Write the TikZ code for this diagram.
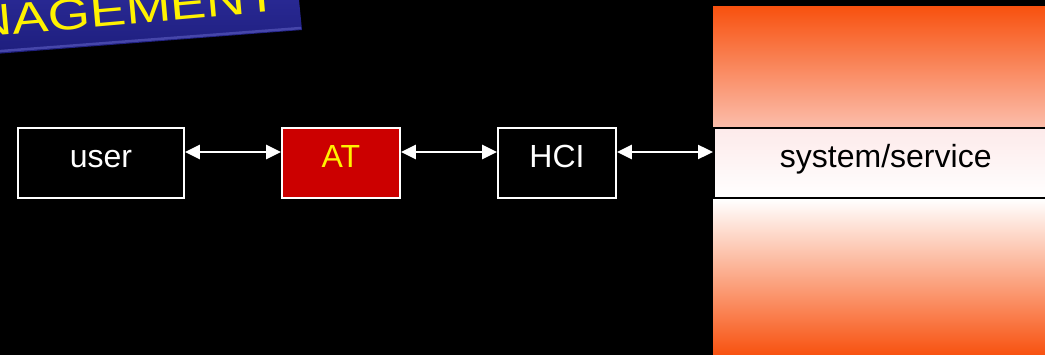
\documentclass[tikz,border=0pt]{standalone}
\usepackage{fontspec}
\setmainfont{Liberation Sans}
\usetikzlibrary{arrows.meta}

\definecolor{bannertop}{RGB}{42,42,150}
\definecolor{bannerbot}{RGB}{30,30,125}
\definecolor{bannerlight}{RGB}{70,70,170}
\definecolor{atred}{RGB}{204,0,0}
\definecolor{sysorange}{RGB}{248,82,16}
\definecolor{syssalmon}{RGB}{247,140,118}
\definecolor{syspink}{RGB}{252,222,218}
\definecolor{syslow}{RGB}{251,198,186}
\definecolor{bandpink}{RGB}{253,234,234}

\tikzset{
    box/.style={draw=white, line width=1.8pt, minimum width=#1, inner sep=0pt,
        text height=40pt, text depth=30pt, font=\fontsize{32}{36}\selectfont},
    link/.style={white, line width=2.4pt,
        {Triangle[length=15pt,width=14pt]}-{Triangle[length=15pt,width=14pt]}}
}

\begin{document}
\begin{tikzpicture}[x=1pt,y=-1pt]
                      \useasboundingbox (0,0) rectangle (1045,355);
                      \fill[black] (0,0) rectangle (1045,355);

                      % title banner
                      \shade[top color=bannertop, bottom color=bannerbot]
                          (-5,54) -- (302,30) -- (298,-10) -- (-5,-10) -- cycle;
                      \draw[bannerlight, line width=2.5pt] (-5,51.5) -- (301,28);
                      \begin{scope}[shift={(-26,37.7)}]
                          \node[anchor=base west, rotate=5, xscale=1.23, transform shape,
                              text=yellow, inner sep=0pt, font=\fontsize{44}{48}\selectfont]
                              (title) at (0,0) {NAGEMENT};
                      \end{scope}

                      % system side
                      \shade[top color=sysorange, middle color=syssalmon, bottom color=syspink]
                          (713,7) rectangle (1045,164);
                      \shade[top color=white, middle color=syslow, bottom color=sysorange]
                          (713,199) rectangle (1045,355);
                      \node[box=344pt, draw=black, line width=1.5pt, top color=bandpink,
                          bottom color=white, text=black, anchor=west] (sys) at (713,163) {system/service};

                      % chain
                      \node[box=166pt, text=white] (user) at (101,163) {user};
                      \node[box=118pt, fill=atred, text=yellow] (at) at (341,163) {AT};
                      \node[box=118pt, text=white] (hci) at (557,163) {HCI};

                      \draw[link] ([yshift=11pt]user.east) -- ([yshift=11pt]at.west);
                      \draw[link] ([yshift=11pt]at.east) -- ([yshift=11pt]hci.west);
                      \draw[link] ([yshift=11pt]hci.east) -- ([yshift=11pt]sys.west);
                  \end{tikzpicture}
\end{document}
